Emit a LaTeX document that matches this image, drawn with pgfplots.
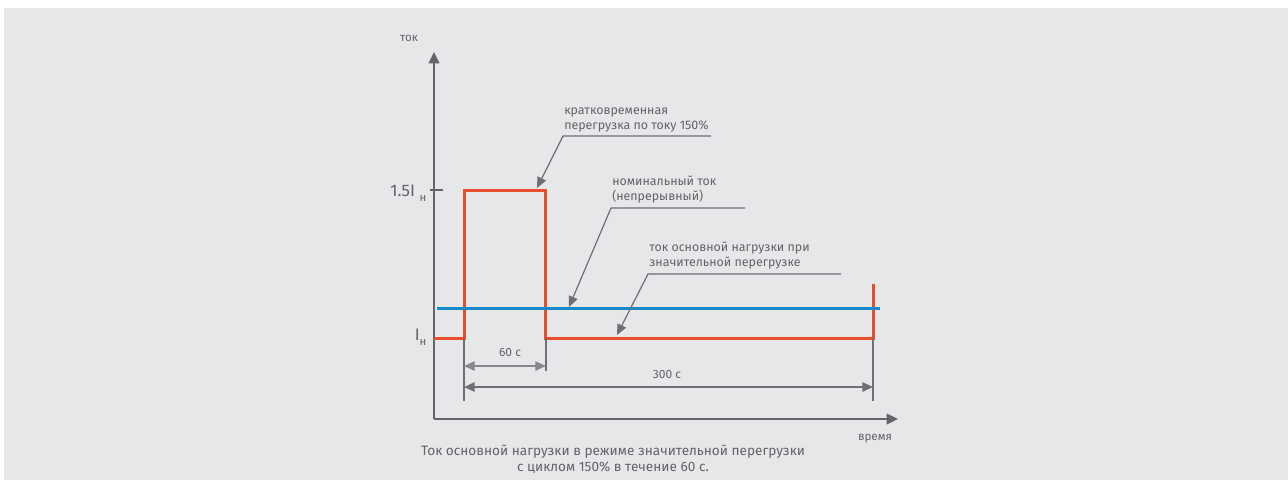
\documentclass[border=0pt]{standalone}
\usepackage{fontspec}
\setmainfont{Fira Sans}
\usepackage{pgfplots}
\pgfplotsset{compat=1.18}
\usetikzlibrary{arrows.meta}
\definecolor{bg}{RGB}{230,231,232}
\definecolor{txt}{RGB}{98,99,102}
\definecolor{axc}{RGB}{100,101,104}
\definecolor{redl}{RGB}{233,78,43}
\definecolor{bluel}{RGB}{22,138,201}
\definecolor{dimc}{RGB}{110,111,114}
\definecolor{dimlight}{RGB}{135,136,139}
\newcommand{\sub}[1]{\raisebox{-3.6pt}{\fontsize{8.5pt}{9pt}\selectfont #1}}
\begin{document}
\begin{tikzpicture}
\begin{scope}[x=0.75pt,y=-0.75pt]
\path[use as bounding box, fill=white] (0,0) rectangle (1288,480);
\fill[bg] (4,8) rectangle (1288,480);
\end{scope}
\begin{axis}[
  at={(325.5pt,-314.25pt)}, anchor=south west,
  scale only axis, width=348pt, height=275.25pt,
  xmin=-22, xmax=318.2, ymin=0.7264, ymax=1.9662,
  axis lines=left, clip=false,
  axis line style={draw=axc, line width=1.6pt, -{Triangle[length=8.5pt,width=8pt]}},
  xtick=\empty,
  ytick={1,1.5},
  yticklabels={\raisebox{3pt}{I\sub{н}},1.5I\hspace{3.5pt}\sub{н}},
  major tick length=0pt,
  yticklabel style={font=\fontsize{12.5pt}{14pt}\selectfont, text=txt, inner sep=0pt, anchor=base east, xshift=-5.5pt, yshift=-5.2pt},
]
\addplot[redl, line width=2.25pt, line join=miter] coordinates {(-22,1) (0,1) (0,1.5) (60,1.5) (60,1) (300,1) (300,1.182)};
\addplot[bluel, line width=2.25pt] coordinates {(-20,1.101) (305,1.101)};
\end{axis}
\begin{scope}[x=0.75pt,y=-0.75pt]
% tick dash at 1.5 I
\draw[axc, line width=2.2pt] (430,190)--(443,190);
% axis labels
\node[text=txt, font=\fontsize{8.7pt}{10pt}\selectfont, inner sep=0pt] at (409,38.5) {ток};
\node[text=txt, font=\fontsize{8.7pt}{10pt}\selectfont, inner sep=0pt] at (875,438.5) {время};
% extension lines
\draw[dimc, line width=1pt] (464,338)--(464,401);
\draw[dimc, line width=1pt] (546,338)--(546,371);
\draw[dimc, line width=1pt] (873,338)--(873,401);
% dimension arrows
\draw[dimlight, line width=1.3pt, {Triangle[length=8pt,width=7pt]}-{Triangle[length=8pt,width=7pt]}] (464,366)--(546,366);
\draw[dimc, line width=1.3pt, {Triangle[length=8pt,width=7pt]}-{Triangle[length=8pt,width=7pt]}] (464,387)--(873,387);
\node[text=txt, font=\fontsize{9pt}{11pt}\selectfont, inner sep=0pt] at (510,352) {60 с};
\node[text=txt, font=\fontsize{9pt}{11pt}\selectfont, inner sep=0pt] at (667,374) {300 с};
% annotations
\node[anchor=south west, inner sep=0pt, align=left, text=txt, font=\fontsize{9.3pt}{11.25pt}\selectfont] at (564,132) {кратковременная\\перегрузка по току 150\%};
\draw[dimc, line width=0.9pt, -{Triangle[length=8pt,width=7pt]}] (711,136)--(563,136)--(537,188);
\node[anchor=south west, inner sep=0pt, align=left, text=txt, font=\fontsize{9.3pt}{11.25pt}\selectfont] at (612,203) {номинальный ток\\(непрерывный)};
\draw[dimc, line width=0.9pt, -{Triangle[length=8pt,width=7pt]}] (745,208)--(611,208)--(569,307);
\node[anchor=south west, inner sep=0pt, align=left, text=txt, font=\fontsize{9.3pt}{11.25pt}\selectfont] at (649,269) {ток основной нагрузки при\\значительной перегрузке};
\draw[dimc, line width=0.9pt, -{Triangle[length=8pt,width=7pt]}] (841,274)--(648,274)--(617,335);
% caption
\node[align=center, inner sep=0pt, text=txt, font=\fontsize{10.2pt}{12pt}\selectfont] at (613,459) {Ток основной нагрузки в режиме значительной перегрузки\\с циклом 150\% в течение 60 с.};
\end{scope}
\end{tikzpicture}
\end{document}
